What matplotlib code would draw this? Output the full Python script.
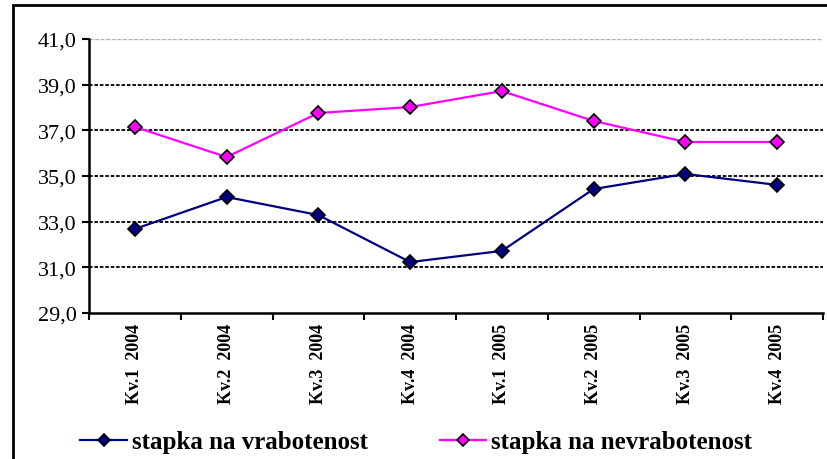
import numpy as np
import matplotlib.pyplot as plt
from matplotlib.patches import Rectangle

quarters = ['Kv.1  2004', 'Kv.2  2004', 'Kv.3  2004', 'Kv.4  2004',
            'Kv.1  2005', 'Kv.2  2005', 'Kv.3  2005', 'Kv.4  2005']
vrabotenost = [32.68, 34.08, 33.29, 31.23, 31.72, 34.43, 35.09, 34.61]
nevrabotenost = [37.15, 35.83, 37.76, 38.02, 38.72, 37.41, 36.49, 36.49]
yticks = [29, 31, 33, 35, 37, 39, 41]

fig = plt.figure(figsize=(8.28, 4.6), dpi=100)
ax = fig.add_axes([89/828, 1 - 314/460, (823 - 89)/828, (314 - 40)/460])

x = np.arange(len(quarters))

# gridlines
for v in yticks[1:-1]:
    ax.axhline(v, color='black', lw=1.3, ls=(0, (2, 1)), zorder=1)
ax.axhline(41, color='#b0b0b0', lw=1.0, ls=(0, (3, 1)), zorder=1)

ax.plot(x, vrabotenost, color='#000080', lw=1.6, marker='D', ms=7,
        mfc='#000080', mec='black', mew=1.2, label='stapka na vrabotenost', zorder=3)
ax.plot(x, nevrabotenost, color='#ff00ff', lw=1.6, marker='D', ms=7,
        mfc='#ff00ff', mec='black', mew=1.2, label='stapka na nevrabotenost', zorder=3)

ax.set_xlim(-0.5, len(quarters) - 0.5)
ax.set_ylim(29, 41)
ax.set_yticks(yticks)
ax.set_yticklabels([('%.1f' % v).replace('.', ',') for v in yticks],
                   fontfamily='Liberation Serif', fontsize=16)
ax.set_xticks(np.arange(-0.5, len(quarters), 1.0))
ax.set_xticklabels([])
ax.set_xticks(x, minor=True)
ax.set_xticklabels(quarters, minor=True, rotation=90, fontfamily='Liberation Serif',
                   fontweight='bold', fontsize=13)
ax.tick_params(axis='x', which='minor', length=0, pad=7)
ax.tick_params(axis='x', which='major', length=5, width=1.5, direction='out')
ax.tick_params(axis='y', length=5, width=1.5, direction='out', pad=4)

for s in ['top', 'right']:
    ax.spines[s].set_visible(False)
ax.spines['left'].set_linewidth(1.8)
ax.spines['bottom'].set_linewidth(1.8)

fig.patches.append(Rectangle((13/828, -0.1), 1.2, 1 - 6/460 + 0.1,
                             transform=fig.transFigure, fill=False,
                             lw=2, ec='black'))

leg = fig.legend(loc='center', bbox_to_anchor=(0.503, 1 - 443/460), ncol=2,
                 frameon=False, handlelength=1.85, handletextpad=0.2,
                 columnspacing=2.9,
                 prop={'family': 'Liberation Serif', 'size': 18, 'weight': 'bold'})
for h in leg.legend_handles:
    h.set_markersize(6)

fig.savefig('out.png', dpi=100)
